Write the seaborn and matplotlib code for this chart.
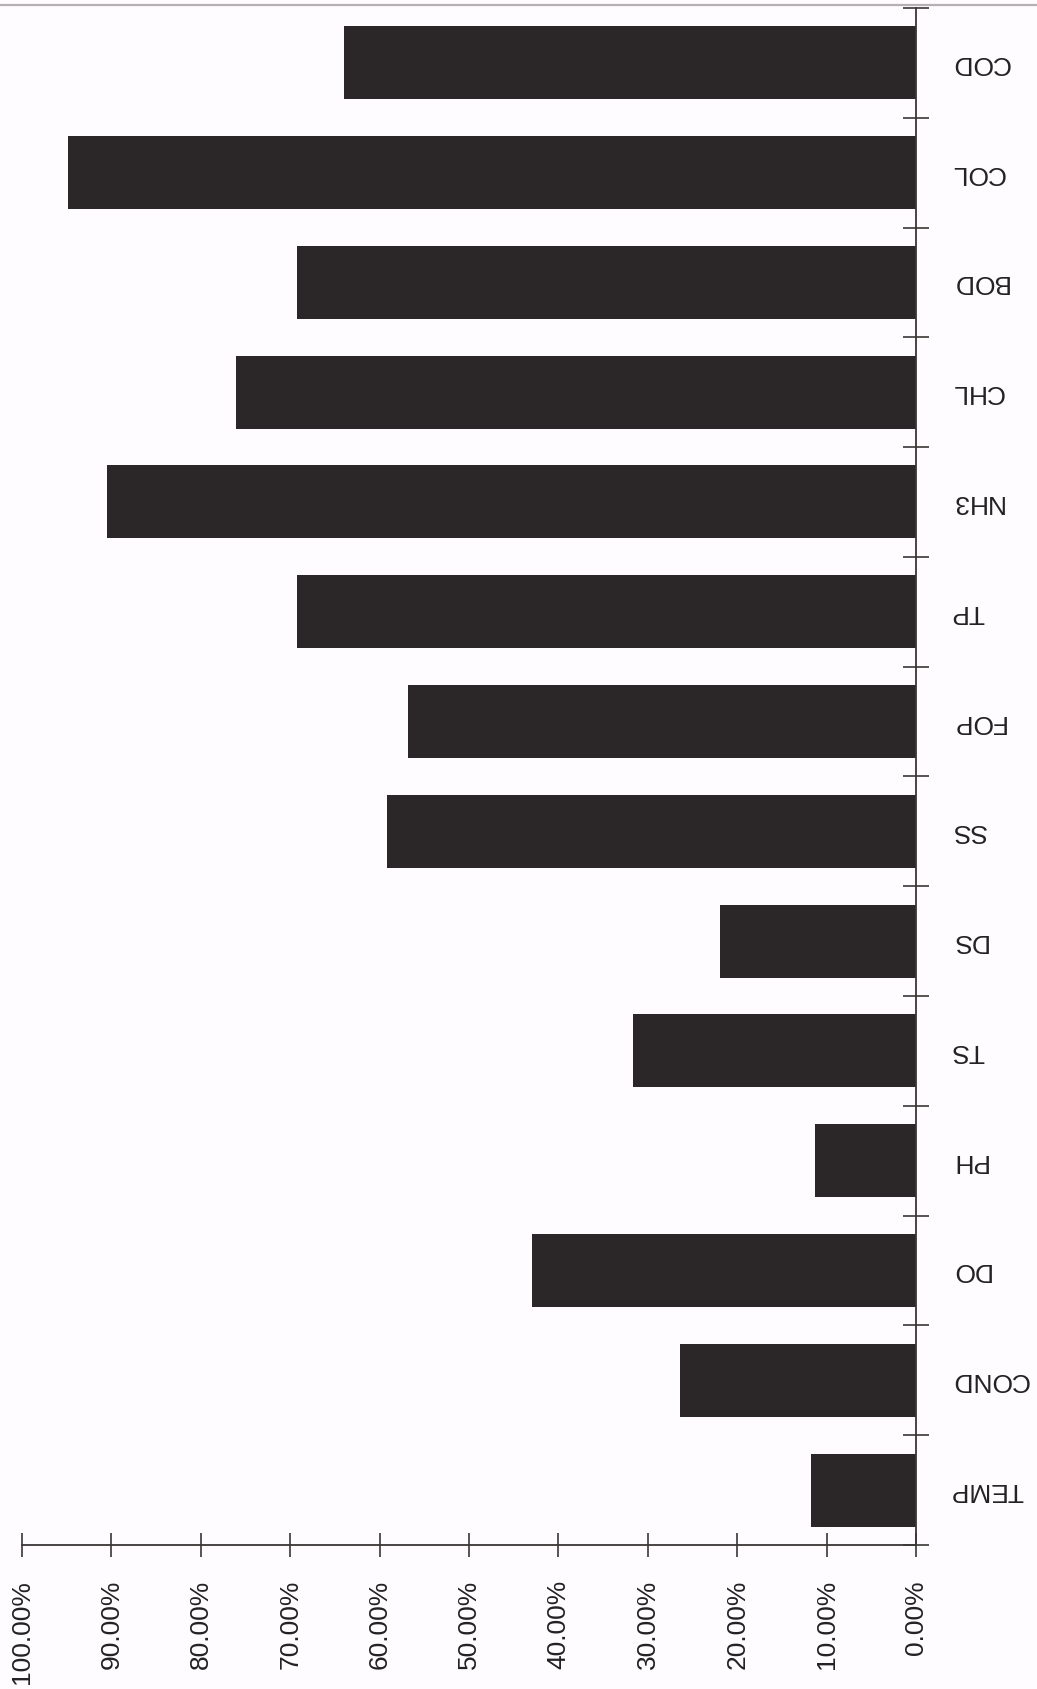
import matplotlib
matplotlib.use("Agg")
import matplotlib.pyplot as plt
import seaborn as sns
import pandas as pd
import numpy as np
from matplotlib.lines import Line2D

# ---- data ----
categories = ["COD", "COL", "BOD", "CHL", "NH3", "TP", "FOP", "SS",
              "DS", "TS", "PH", "DO", "COND", "TEMP"]
values = [64.0, 94.9, 69.2, 76.1, 90.5, 69.2, 56.8, 59.2,
          21.9, 31.6, 11.3, 43.0, 26.4, 11.7]
x_ticks = [0, 10, 20, 30, 40, 50, 60, 70, 80, 90, 100]
x_tick_labels = ["0.00%", "10.00%", "20.00%", "30.00%", "40.00%", "50.00%",
                 "60.00%", "70.00%", "80.00%", "90.00%", "100.00%"]

sns.set_theme(style="white")
plt.rcParams["font.family"] = ["Liberation Sans", "DejaVu Sans"]

bar_color = "#2b2728"
axis_color = "#3a3636"

fig = plt.figure(figsize=(10.37, 16.89), dpi=100)
fig.patch.set_facecolor("#fefcfe")
ax = fig.add_axes([0.0212, 0.0853, 0.8621, 0.9100])
ax.set_facecolor("#fefcfe")

df = pd.DataFrame({"param": categories, "value": values})
sns.barplot(data=df, y="param", x="value", order=categories, orient="h",
            color=bar_color, saturation=1, width=0.665, linewidth=0, ax=ax)

ax.set_xlim(100, 0)
ax.set_ylim(len(categories) - 0.5, -0.5)
ax.set_xlabel("")
ax.set_ylabel("")

for side in ["top", "left"]:
    ax.spines[side].set_visible(False)
for side in ["right", "bottom"]:
    ax.spines[side].set_visible(True)
    ax.spines[side].set_color(axis_color)
    ax.spines[side].set_linewidth(1.3)

# y axis on the right, labels upside down, ticks at category boundaries
ax.yaxis.tick_right()
ax.set_yticks(range(len(categories)))
ax.set_yticklabels(categories, rotation=180, fontsize=19, va="center",
                   color="#222222")
ax.set_yticks(np.arange(-0.5, len(categories), 1.0), minor=True)
ax.tick_params(axis="y", which="major", length=0, pad=25, right=True, left=False)
ax.tick_params(axis="y", which="minor", length=18.7, width=1.2,
               direction="inout", color=axis_color, right=True, left=False)

# x axis
ax.set_xticks(x_ticks)
ax.set_xticklabels(x_tick_labels, rotation=90, fontsize=19, color="#222222")
ax.tick_params(axis="x", which="major", length=17.3, width=1.2,
               direction="inout", color=axis_color, pad=16.6, bottom=True)

# faint scan border at the top
fig.add_artist(Line2D([0, 1], [0.997, 0.997], transform=fig.transFigure,
                      color="#b4b0b4", linewidth=1.6))

fig.savefig("out.png", dpi=100, facecolor=fig.get_facecolor())
